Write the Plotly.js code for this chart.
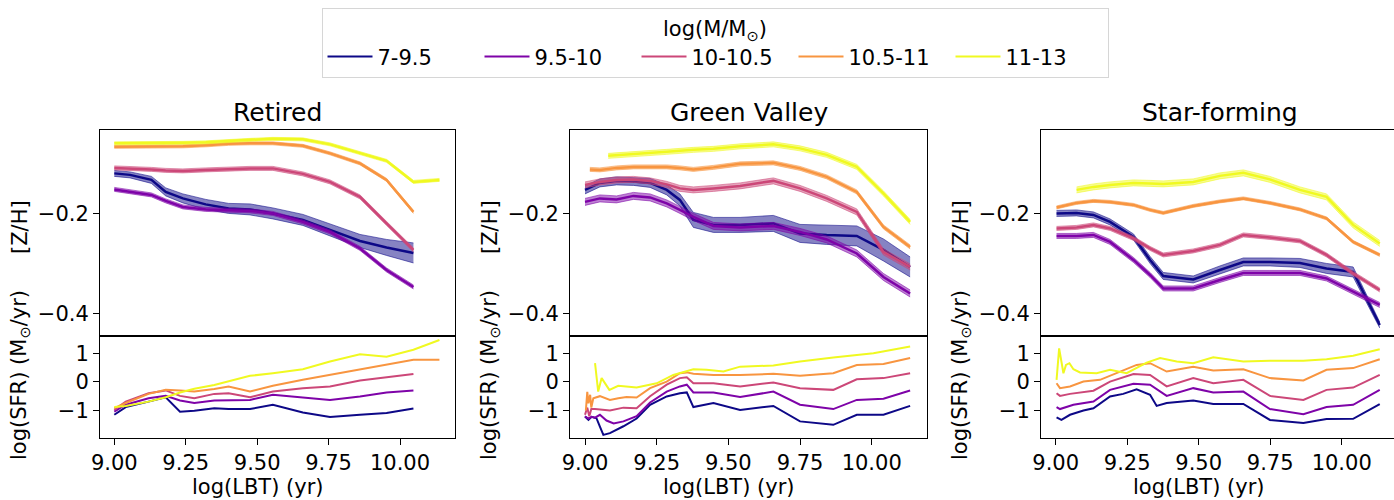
<!DOCTYPE html>
<html>
<head>
<meta charset="utf-8">
<script src="https://cdn.plot.ly/plotly-3.0.1.min.js"></script>
<style>html,body{margin:0;padding:0;overflow:hidden;background:#fff;}#chart{width:1400px;height:500px;}</style>
</head>
<body>
<div id="chart"></div>
<script>
// ---------------- DATA ----------------
const MASS_BINS = ['7-9.5', '9.5-10', '10-10.5', '10.5-11', '11-13'];
const PANEL_TITLES = ['Retired', 'Green Valley', 'Star-forming'];
const X_TICKS = [9.00, 9.25, 9.50, 9.75, 10.00];

// Retired, [Z/H]
const RET_ZH_X = [9.00, 9.055, 9.13, 9.18, 9.24, 9.32, 9.40, 9.475, 9.555, 9.66, 9.755, 9.86, 9.953, 10.047];
const RET_ZH_X5 = [9.00, 9.055, 9.13, 9.18, 9.24, 9.32, 9.40, 9.475, 9.555, 9.66, 9.755, 9.86, 9.953, 10.047, 10.138];
const RET_ZH_1 = [-0.120, -0.123, -0.133, -0.157, -0.170, -0.182, -0.190, -0.192, -0.200, -0.213, -0.233, -0.255, -0.268, -0.279];
const RET_ZH_1_ERR = [0.006, 0.006, 0.007, 0.008, 0.009, 0.010, 0.010, 0.011, 0.011, 0.011, 0.012, 0.013, 0.016, 0.020];
const RET_ZH_2 = [-0.152, -0.157, -0.163, -0.175, -0.187, -0.192, -0.193, -0.195, -0.200, -0.217, -0.237, -0.270, -0.313, -0.347];
const RET_ZH_2_ERR = [0.004];
const RET_ZH_3 = [-0.109, -0.110, -0.112, -0.114, -0.115, -0.113, -0.111, -0.110, -0.110, -0.121, -0.137, -0.167, -0.220, -0.273];
const RET_ZH_3_ERR = [0.004];
const RET_ZH_4 = [-0.067, -0.067, -0.067, -0.067, -0.066, -0.064, -0.061, -0.060, -0.060, -0.065, -0.080, -0.100, -0.133, -0.197];
const RET_ZH_4_ERR = [0.003];
const RET_ZH_5 = [-0.060, -0.060, -0.060, -0.059, -0.059, -0.058, -0.055, -0.053, -0.051, -0.052, -0.062, -0.080, -0.095, -0.137, -0.133];
const RET_ZH_5_ERR = [0.003];

// Retired, log(SFR)
const RET_SFR_X = [9.00, 9.04, 9.12, 9.18, 9.23, 9.28, 9.35, 9.40, 9.475, 9.555, 9.66, 9.755, 9.86, 9.953, 10.047];
const RET_SFR_X45 = [9.00, 9.04, 9.12, 9.18, 9.23, 9.28, 9.35, 9.40, 9.475, 9.555, 9.66, 9.755, 9.86, 9.953, 10.047, 10.138];
const RET_SFR_1 = [-1.15, -0.88, -0.69, -0.54, -1.04, -1.01, -0.92, -0.95, -0.95, -0.80, -1.07, -1.23, -1.15, -1.09, -0.93];
const RET_SFR_2 = [-1.04, -0.80, -0.57, -0.49, -0.65, -0.74, -0.65, -0.64, -0.63, -0.45, -0.54, -0.63, -0.51, -0.37, -0.30];
const RET_SFR_3 = [-0.98, -0.69, -0.40, -0.30, -0.49, -0.57, -0.42, -0.40, -0.54, -0.34, -0.22, -0.16, 0.05, 0.16, 0.27];
const RET_SFR_4 = [-0.92, -0.74, -0.42, -0.28, -0.30, -0.34, -0.25, -0.16, -0.34, -0.14, 0.07, 0.24, 0.44, 0.59, 0.77, 0.77];
const RET_SFR_5 = [-0.88, -0.84, -0.69, -0.54, -0.37, -0.24, -0.11, 0.01, 0.21, 0.30, 0.44, 0.71, 0.96, 0.88, 1.12, 1.46];

// Green Valley, [Z/H]
const GV_ZH_X = [9.00, 9.052, 9.11, 9.169, 9.227, 9.285, 9.331, 9.378, 9.448, 9.541, 9.657, 9.75, 9.843, 9.948, 10.041, 10.134];
const GV_ZH_X4 = [9.017, 9.052, 9.11, 9.169, 9.227, 9.285, 9.331, 9.378, 9.448, 9.541, 9.657, 9.75, 9.843, 9.948, 10.041, 10.134];
const GV_ZH_X5 = [9.081, 9.169, 9.227, 9.285, 9.378, 9.448, 9.541, 9.657, 9.75, 9.843, 9.948, 10.041, 10.134];
const GV_ZH_1 = [-0.153, -0.139, -0.135, -0.136, -0.139, -0.153, -0.173, -0.213, -0.223, -0.223, -0.220, -0.240, -0.243, -0.245, -0.273, -0.307];
const GV_ZH_1_ERR = [0.008, 0.008, 0.008, 0.008, 0.009, 0.010, 0.012, 0.015, 0.015, 0.015, 0.016, 0.018, 0.019, 0.020, 0.022, 0.020];
const GV_ZH_2 = [-0.177, -0.170, -0.172, -0.165, -0.168, -0.180, -0.193, -0.207, -0.225, -0.228, -0.225, -0.237, -0.252, -0.280, -0.327, -0.360];
const GV_ZH_2_ERR = [0.007];
const GV_ZH_3 = [-0.143, -0.137, -0.133, -0.132, -0.135, -0.142, -0.150, -0.153, -0.150, -0.145, -0.135, -0.150, -0.170, -0.197, -0.277, -0.307];
const GV_ZH_3_ERR = [0.006];
const GV_ZH_4 = [-0.112, -0.113, -0.109, -0.107, -0.107, -0.107, -0.109, -0.112, -0.108, -0.101, -0.099, -0.110, -0.127, -0.157, -0.227, -0.267];
const GV_ZH_4_ERR = [0.004];
const GV_ZH_5 = [-0.085, -0.082, -0.079, -0.077, -0.073, -0.071, -0.066, -0.062, -0.070, -0.083, -0.107, -0.160, -0.217];
const GV_ZH_5_ERR = [0.005];

// Green Valley, log(SFR)
const GV_SFR_X1 = [9.00, 9.012, 9.023, 9.04, 9.052, 9.064, 9.087, 9.134, 9.18, 9.227, 9.285, 9.331, 9.355, 9.378, 9.448, 9.541, 9.657, 9.75, 9.866, 9.948, 10.041, 10.134];
const GV_SFR_1 = [-1.21, -1.33, -1.22, -1.27, -1.56, -1.85, -1.79, -1.55, -1.28, -0.80, -0.51, -0.40, -0.37, -0.88, -0.74, -0.98, -0.84, -1.38, -1.50, -1.15, -1.15, -0.84];
const GV_SFR_X2 = [9.00, 9.012, 9.023, 9.035, 9.052, 9.075, 9.10, 9.134, 9.18, 9.227, 9.285, 9.331, 9.355, 9.378, 9.448, 9.541, 9.657, 9.75, 9.866, 9.948, 10.041, 10.134];
const GV_SFR_2 = [-1.20, -1.28, -1.22, -1.25, -1.15, -1.35, -1.45, -1.38, -1.20, -0.72, -0.34, -0.16, -0.10, -0.37, -0.37, -0.53, -0.34, -0.80, -0.95, -0.63, -0.59, -0.30];
const GV_SFR_X3 = [9.00, 9.008, 9.015, 9.022, 9.035, 9.06, 9.087, 9.134, 9.18, 9.227, 9.285, 9.331, 9.355, 9.378, 9.448, 9.541, 9.657, 9.75, 9.866, 9.948, 10.041, 10.134];
const GV_SFR_3 = [-1.15, -0.90, -1.20, -0.95, -0.95, -0.98, -1.00, -0.90, -0.92, -0.50, -0.10, 0.13, 0.16, -0.05, -0.05, -0.16, -0.02, -0.22, -0.28, 0.09, 0.13, 0.30];
const GV_SFR_X4 = [9.003, 9.008, 9.012, 9.018, 9.022, 9.029, 9.052, 9.087, 9.116, 9.145, 9.18, 9.227, 9.285, 9.331, 9.355, 9.378, 9.448, 9.541, 9.657, 9.75, 9.866, 9.948, 10.041, 10.134];
const GV_SFR_4 = [-1.00, -0.35, -0.75, -0.45, -0.90, -0.57, -0.50, -0.63, -0.57, -0.53, -0.55, -0.22, 0.01, 0.30, 0.33, 0.28, 0.24, 0.24, 0.28, 0.21, 0.30, 0.59, 0.62, 0.83];
const GV_SFR_X5 = [9.035, 9.046, 9.058, 9.085, 9.116, 9.18, 9.25, 9.308, 9.378, 9.424, 9.483, 9.541, 9.657, 9.75, 9.866, 10.006, 10.134];
const GV_SFR_5 = [0.65, -0.34, 0.13, -0.28, -0.14, -0.20, -0.05, 0.24, 0.44, 0.42, 0.36, 0.53, 0.57, 0.71, 0.85, 1.00, 1.23];

// Star-forming, [Z/H]
const SF_ZH_X = [9.003, 9.073, 9.132, 9.19, 9.272, 9.33, 9.376, 9.481, 9.574, 9.656, 9.749, 9.854, 9.947, 10.04, 10.133];
const SF_ZH_X5 = [9.073, 9.132, 9.19, 9.272, 9.33, 9.376, 9.481, 9.574, 9.656, 9.749, 9.854, 9.947, 10.04, 10.133];
const SF_ZH_1 = [-0.200, -0.199, -0.203, -0.217, -0.247, -0.293, -0.325, -0.332, -0.313, -0.297, -0.297, -0.299, -0.310, -0.317, -0.423];
const SF_ZH_1_ERR = [0.006, 0.006, 0.006, 0.006, 0.006, 0.007, 0.007, 0.007, 0.008, 0.008, 0.008, 0.009, 0.010, 0.010, 0.006];
const SF_ZH_2 = [-0.245, -0.245, -0.243, -0.257, -0.293, -0.323, -0.350, -0.350, -0.333, -0.319, -0.319, -0.319, -0.330, -0.357, -0.383];
const SF_ZH_2_ERR = [0.005];
const SF_ZH_3 = [-0.230, -0.228, -0.223, -0.230, -0.250, -0.270, -0.283, -0.275, -0.263, -0.243, -0.248, -0.255, -0.283, -0.320, -0.353];
const SF_ZH_3_ERR = [0.004];
const SF_ZH_4 = [-0.188, -0.179, -0.175, -0.177, -0.183, -0.193, -0.199, -0.185, -0.176, -0.170, -0.179, -0.192, -0.210, -0.257, -0.283];
const SF_ZH_4_ERR = [0.003];
const SF_ZH_5 = [-0.153, -0.147, -0.143, -0.139, -0.140, -0.141, -0.137, -0.125, -0.119, -0.132, -0.153, -0.167, -0.223, -0.260];
const SF_ZH_5_ERR = [0.006];

// Star-forming, log(SFR)
const SF_SFR_X1 = [9.003, 9.02, 9.05, 9.097, 9.132, 9.19, 9.236, 9.283, 9.33, 9.353, 9.388, 9.481, 9.551, 9.656, 9.749, 9.866, 9.947, 10.04, 10.133];
const SF_SFR_1 = [-1.24, -1.33, -1.15, -1.00, -0.92, -0.51, -0.42, -0.26, -0.45, -0.84, -0.74, -0.65, -0.77, -0.77, -1.33, -1.44, -1.30, -1.29, -0.78];
const SF_SFR_X2 = [9.003, 9.015, 9.062, 9.132, 9.19, 9.272, 9.33, 9.388, 9.481, 9.551, 9.656, 9.749, 9.866, 9.947, 10.04, 10.133];
const SF_SFR_2 = [-0.88, -0.95, -0.80, -0.69, -0.28, -0.07, -0.10, -0.49, -0.22, -0.37, -0.34, -0.95, -1.13, -0.88, -0.80, -0.28];
const SF_SFR_X3 = [9.003, 9.015, 9.05, 9.132, 9.19, 9.272, 9.33, 9.388, 9.481, 9.551, 9.656, 9.749, 9.866, 9.947, 10.04, 10.133];
const SF_SFR_3 = [-0.40, -0.49, -0.42, -0.31, 0.01, 0.27, 0.24, -0.16, 0.13, -0.05, 0.07, -0.49, -0.63, -0.28, -0.20, 0.24];
const SF_SFR_X4 = [9.003, 9.015, 9.05, 9.097, 9.155, 9.213, 9.283, 9.33, 9.388, 9.481, 9.551, 9.656, 9.749, 9.866, 9.947, 10.04, 10.133];
const SF_SFR_4 = [-0.05, -0.22, -0.16, 0.01, 0.07, 0.30, 0.59, 0.65, 0.36, 0.53, 0.40, 0.44, 0.13, 0.05, 0.42, 0.48, 0.79];
const SF_SFR_X5 = [9.003, 9.012, 9.021, 9.027, 9.036, 9.048, 9.062, 9.085, 9.143, 9.19, 9.248, 9.318, 9.365, 9.423, 9.481, 9.551, 9.656, 9.749, 9.866, 9.947, 10.04, 10.133];
const SF_SFR_5 = [0.07, 1.17, 0.65, 0.30, 0.59, 0.65, 0.44, 0.33, 0.30, 0.42, 0.30, 0.67, 0.83, 0.71, 0.65, 0.86, 0.71, 0.74, 0.74, 0.79, 0.91, 1.14];

// ---------------- STYLE ----------------
const COLORS = ['#0d0887', '#7e03a8', '#cc4778', '#f89540', '#f0f921'];
const FONT = 'DejaVu Sans, Liberation Sans, sans-serif';
const W = 1400, H = 500;

function rgba(hex, a) {
  const n = parseInt(hex.slice(1), 16);
  return 'rgba(' + ((n >> 16) & 255) + ',' + ((n >> 8) & 255) + ',' + (n & 255) + ',' + a + ')';
}
function errAt(err, i) { return err.length === 1 ? err[0] : err[i]; }

const panels = [
  { zh: [[RET_ZH_X, RET_ZH_1, RET_ZH_1_ERR], [RET_ZH_X, RET_ZH_2, RET_ZH_2_ERR], [RET_ZH_X, RET_ZH_3, RET_ZH_3_ERR], [RET_ZH_X, RET_ZH_4, RET_ZH_4_ERR], [RET_ZH_X5, RET_ZH_5, RET_ZH_5_ERR]],
    sfr: [[RET_SFR_X, RET_SFR_1], [RET_SFR_X, RET_SFR_2], [RET_SFR_X, RET_SFR_3], [RET_SFR_X45, RET_SFR_4], [RET_SFR_X45, RET_SFR_5]],
    px: [100, 455], x0px: 114.3, ppu: 285.7 },
  { zh: [[GV_ZH_X, GV_ZH_1, GV_ZH_1_ERR], [GV_ZH_X, GV_ZH_2, GV_ZH_2_ERR], [GV_ZH_X, GV_ZH_3, GV_ZH_3_ERR], [GV_ZH_X4, GV_ZH_4, GV_ZH_4_ERR], [GV_ZH_X5, GV_ZH_5, GV_ZH_5_ERR]],
    sfr: [[GV_SFR_X1, GV_SFR_1], [GV_SFR_X2, GV_SFR_2], [GV_SFR_X3, GV_SFR_3], [GV_SFR_X4, GV_SFR_4], [GV_SFR_X5, GV_SFR_5]],
    px: [570, 927], x0px: 585, ppu: 286.7 },
  { zh: [[SF_ZH_X, SF_ZH_1, SF_ZH_1_ERR], [SF_ZH_X, SF_ZH_2, SF_ZH_2_ERR], [SF_ZH_X, SF_ZH_3, SF_ZH_3_ERR], [SF_ZH_X, SF_ZH_4, SF_ZH_4_ERR], [SF_ZH_X5, SF_ZH_5, SF_ZH_5_ERR]],
    sfr: [[SF_SFR_X1, SF_SFR_1], [SF_SFR_X2, SF_SFR_2], [SF_SFR_X3, SF_SFR_3], [SF_SFR_X4, SF_SFR_4], [SF_SFR_X5, SF_SFR_5]],
    px: [1041, 1398], x0px: 1055.7, ppu: 286 }
];

const TOP_PX = [130, 336], BOT_PX = [336, 438];
const ZH_RANGE = [-0.445, -0.0333];
const SFR_RANGE = [-1.96, 1.60];

const traces = [];
const layout = {
  width: W, height: H,
  margin: { l: 0, r: 0, t: 0, b: 0 },
  paper_bgcolor: '#fff', plot_bgcolor: '#fff',
  font: { family: FONT, size: 21, color: '#000' },
  showlegend: true,
  legend: {
    orientation: 'h', x: 715 / W, xanchor: 'center', y: 1 - 8 / H, yanchor: 'top',
    bgcolor: '#fff', bordercolor: '#d6d6d6', borderwidth: 1,
    font: { family: FONT, size: 21, color: '#000' },
    title: { text: 'log(M/M<sub>⊙</sub>)', side: 'top center', font: { family: FONT, size: 21, color: '#000' } },
    itemwidth: 45, traceorder: 'normal', entrywidth: 97, entrywidthmode: 'pixels'
  },
  annotations: []
};

const axBase = {
  showline: true, linecolor: '#000', linewidth: 1, mirror: true,
  showgrid: false, zeroline: false, ticks: 'outside', ticklen: 6, tickwidth: 1, tickcolor: '#000',
  tickfont: { family: FONT, size: 21, color: '#000' }
};

panels.forEach((p, pi) => {
  const nTop = 2 * pi + 1, nBot = 2 * pi + 2;
  const xTop = 'x' + (nTop === 1 ? '' : nTop), yTop = 'y' + (nTop === 1 ? '' : nTop);
  const xBot = 'x' + nBot, yBot = 'y' + nBot;
  const xr = [9 + (p.px[0] - p.x0px) / p.ppu, 9 + (p.px[1] - p.x0px) / p.ppu];
  const xdom = [p.px[0] / W, p.px[1] / W];

  layout['xaxis' + (nTop === 1 ? '' : nTop)] = Object.assign({}, axBase, {
    domain: xdom, range: xr, anchor: yTop, showticklabels: false, ticks: ''
  });
  layout['yaxis' + (nTop === 1 ? '' : nTop)] = Object.assign({}, axBase, {
    domain: [1 - TOP_PX[1] / H, 1 - TOP_PX[0] / H], range: ZH_RANGE, anchor: xTop,
    tickmode: 'array', tickvals: [-0.4, -0.2], ticktext: ['−0.4', '−0.2']
  });
  layout['xaxis' + nBot] = Object.assign({}, axBase, {
    domain: xdom, range: xr, anchor: yBot,
    tickmode: 'array', tickvals: X_TICKS, ticktext: X_TICKS.map(v => v.toFixed(2))
  });
  layout['yaxis' + nBot] = Object.assign({}, axBase, {
    domain: [1 - BOT_PX[1] / H, 1 - BOT_PX[0] / H], range: SFR_RANGE, anchor: xBot,
    tickmode: 'array', tickvals: [-1, 0, 1], ticktext: ['−1', '0', '1']
  });

  // [Z/H] with bands
  p.zh.forEach((s, k) => {
    const [xs, ys, err] = s;
    const lo = ys.map((v, i) => v - errAt(err, i));
    const hi = ys.map((v, i) => v + errAt(err, i));
    traces.push({ x: xs, y: lo, xaxis: xTop, yaxis: yTop, type: 'scatter', mode: 'lines',
      line: { color: rgba(COLORS[k], 0.55), width: 1 }, showlegend: false, hoverinfo: 'skip' });
    traces.push({ x: xs, y: hi, xaxis: xTop, yaxis: yTop, type: 'scatter', mode: 'lines', fill: 'tonexty',
      fillcolor: rgba(COLORS[k], 0.5), line: { color: rgba(COLORS[k], 0.55), width: 1 }, showlegend: false, hoverinfo: 'skip' });
    traces.push({ x: xs, y: ys, xaxis: xTop, yaxis: yTop, type: 'scatter', mode: 'lines',
      line: { color: COLORS[k], width: 2.5 }, name: MASS_BINS[k], showlegend: false });
  });
  // log(SFR)
  p.sfr.forEach((s, k) => {
    const [xs, ys] = s;
    traces.push({ x: xs, y: ys, xaxis: xBot, yaxis: yBot, type: 'scatter', mode: 'lines',
      line: { color: COLORS[k], width: 2 }, name: MASS_BINS[k], showlegend: pi === 0, legendgroup: 'm' + k });
  });

  // panel title
  layout.annotations.push({ xref: 'paper', yref: 'paper', x: (p.px[0] + p.px[1]) / 2 / W, y: 1 - TOP_PX[0] / H,
    xanchor: 'center', yanchor: 'bottom', yshift: 1, showarrow: false, text: PANEL_TITLES[pi],
    font: { family: FONT, size: 25, color: '#000' } });
  // y titles
  layout.annotations.push({ xref: 'paper', yref: 'paper', x: (p.px[0] - 80) / W, y: 1 - 227 / H,
    xanchor: 'center', yanchor: 'middle', textangle: -90, showarrow: false, text: '[Z/H]',
    font: { family: FONT, size: 21, color: '#000' } });
  layout.annotations.push({ xref: 'paper', yref: 'paper', x: (p.px[0] - 80) / W, y: 1 - 375 / H,
    xanchor: 'center', yanchor: 'middle', textangle: -90, showarrow: false, text: 'log(SFR) (M<sub>⊙</sub>/yr)',
    font: { family: FONT, size: 21, color: '#000' } });
  // x title
  layout.annotations.push({ xref: 'paper', yref: 'paper', x: (p.x0px + p.ppu * 0.5) / W, y: 0,
    xanchor: 'center', yanchor: 'bottom', yshift: -1, showarrow: false, text: 'log(LBT) (yr)',
    font: { family: FONT, size: 21, color: '#000' } });
});

Plotly.newPlot('chart', traces, layout, { displayModeBar: false, staticPlot: true });
</script>
</body>
</html>
